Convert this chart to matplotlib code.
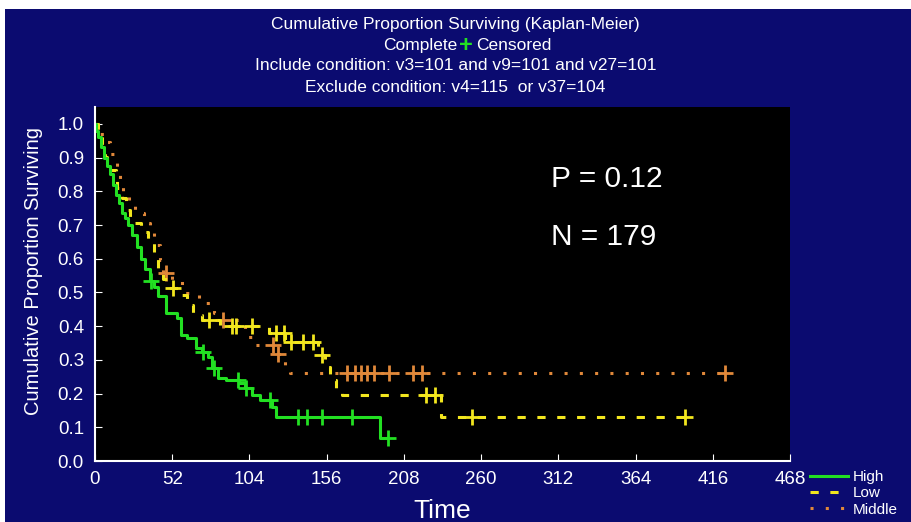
import numpy as np
import matplotlib
matplotlib.use("Agg")
import matplotlib.pyplot as plt
from matplotlib.lines import Line2D
from matplotlib.patches import Rectangle

plt.rcParams['font.family'] = ['Liberation Sans', 'DejaVu Sans']

# Kaplan-Meier step curves (time where the step starts, proportion after it)
high_t = [0, 1, 2, 4, 6, 8, 10, 12, 14, 16, 18, 20, 22, 25, 28, 31, 34, 37, 40, 42.5, 48,
          55, 58, 62, 68, 72, 76, 79, 83, 88, 97, 101, 106, 111, 119, 122, 192, 197]
high_s = [1.0, 0.98, 0.96, 0.93, 0.90, 0.875, 0.85, 0.82, 0.79, 0.765, 0.735, 0.72, 0.70,
          0.67, 0.635, 0.60, 0.57, 0.535, 0.515, 0.488, 0.44, 0.424, 0.374, 0.365, 0.335,
          0.324, 0.309, 0.276, 0.246, 0.24, 0.23, 0.217, 0.196, 0.18, 0.16, 0.131, 0.067, 0.067]
high_cens = [38, 73, 80, 96, 101.5, 118, 137, 143, 153, 173, 197]

low_t = [0, 2, 4.5, 6.7, 8, 14, 14.6, 18, 20.8, 23.5, 31, 36, 40, 42.5, 46, 50, 57, 62, 66,
         72, 84, 117, 128, 150, 155, 158, 162, 166, 233, 397]
low_s = [1.0, 0.977, 0.938, 0.903, 0.863, 0.839, 0.809, 0.78, 0.745, 0.705, 0.68, 0.646,
         0.616, 0.572, 0.54, 0.512, 0.493, 0.463, 0.433, 0.418, 0.40, 0.379, 0.354, 0.315,
         0.28, 0.24, 0.216, 0.196, 0.131, 0.131]
low_cens = [52.5, 77, 92, 95, 106, 122, 127.5, 132, 140, 146.5, 153, 222.6, 229, 254, 397]

mid_t = [0, 2, 6, 10, 13, 15, 17, 19, 23, 27, 33, 37, 40, 41.5, 44, 46, 52, 60, 70, 80, 84,
         101, 106, 122, 128, 131, 424]
mid_s = [1.0, 0.97, 0.947, 0.91, 0.883, 0.86, 0.82, 0.79, 0.76, 0.735, 0.705, 0.685, 0.661,
         0.641, 0.596, 0.557, 0.527, 0.497, 0.468, 0.438, 0.418, 0.369, 0.344, 0.318, 0.285,
         0.26, 0.26]
mid_cens = [48, 86, 120, 123, 170, 175, 179, 183, 188, 198, 214, 220, 424]

x_ticks = [0, 52, 104, 156, 208, 260, 312, 364, 416, 468]
y_ticks = [0.0, 0.1, 0.2, 0.3, 0.4, 0.5, 0.6, 0.7, 0.8, 0.9, 1.0]

NAVY = '#0b0b70'
GREEN = '#22e022'
YELLOW = '#f2e61e'
ORANGE = '#e0883a'


def step_value(ts, ss, at):
    idx = np.searchsorted(ts, at, side='right') - 1
    return np.asarray(ss)[idx]


fig = plt.figure(figsize=(9.11, 5.22), dpi=100, facecolor='white')
fig.patches.append(Rectangle((5 / 911, 0), 1, 1 - 9 / 522, transform=fig.transFigure,
                             facecolor=NAVY, edgecolor='none', zorder=-10))

ax = fig.add_axes([95 / 911, 61 / 522, 695 / 911, 354 / 522])
ax.set_facecolor('black')

curves = [
    (mid_t, mid_s, mid_cens, ORANGE, (0, (1, 4)), 'Middle'),
    (low_t, low_s, low_cens, YELLOW, (0, (2.7, 3.8)), 'Low'),
    (high_t, high_s, high_cens, GREEN, '-', 'High'),
]
for ts, ss, cens, col, ls, name in curves:
    ax.plot(ts, ss, drawstyle='steps-post', color=col, linestyle=ls, lw=2.2)
    ax.plot(cens, step_value(ts, ss, cens), linestyle='none', marker='+', ms=11,
            mew=2, color=col)

ax.set_xlim(0, 468)
ax.set_ylim(0, 1.05)
ax.set_xticks(x_ticks)
ax.set_yticks(y_ticks)
ax.set_yticklabels([f'{v:.1f}' for v in y_ticks])
ax.tick_params(colors='white', direction='in', length=5, labelsize=13.5)
ax.tick_params(axis='y', pad=8)
ax.tick_params(axis='x', pad=7)
for side in ['top', 'right']:
    ax.spines[side].set_visible(False)
for side in ['left', 'bottom']:
    ax.spines[side].set_color('white')
    ax.spines[side].set_linewidth(1.5)

ax.set_xlabel('Time', color='white', fontsize=19, labelpad=8)
ax.set_ylabel('Cumulative Proportion Surviving', color='white', fontsize=14.5)
ax.yaxis.set_label_coords(-0.075, 0.537)

ax.text(307, 0.835, 'P = 0.12', color='white', fontsize=21.5, va='center')
ax.text(307, 0.665, 'N = 179', color='white', fontsize=21.5, va='center')

TFS = 12.5
fig.text(0.5, 1 - 25 / 522, 'Cumulative Proportion Surviving (Kaplan-Meier)',
         color='white', fontsize=TFS, ha='center', va='center')
fig.text(457 / 911, 1 - 45 / 522, 'Complete', color='white', fontsize=TFS,
         ha='right', va='center')
fig.text(466 / 911, 1 - 45 / 522, '+', color=GREEN, fontsize=17, fontweight='bold',
         ha='center', va='center')
fig.text(476 / 911, 1 - 45 / 522, 'Censored', color='white', fontsize=TFS,
         ha='left', va='center')
fig.text(0.5, 1 - 66 / 522, 'Include condition: v3=101 and v9=101 and v27=101',
         color='white', fontsize=TFS, ha='center', va='center')
fig.text(0.5, 1 - 87 / 522, 'Exclude condition: v4=115  or v37=104',
         color='white', fontsize=TFS, ha='center', va='center')

handles = [Line2D([], [], color=GREEN, lw=2.2, ls='-'),
           Line2D([], [], color=YELLOW, lw=2.2, ls=(0, (2.7, 3.8))),
           Line2D([], [], color=ORANGE, lw=2.2, ls=(0, (1, 4)))]
fig.legend(handles, ['High', 'Low', 'Middle'], loc='upper left',
           bbox_to_anchor=(810 / 911, 1 - 470 / 522), frameon=False, fontsize=11,
           labelcolor='white', handlelength=2.5, handletextpad=0.3, labelspacing=0.15,
           borderpad=0, borderaxespad=0)

fig.savefig('out.png', dpi=100, facecolor=fig.get_facecolor())
